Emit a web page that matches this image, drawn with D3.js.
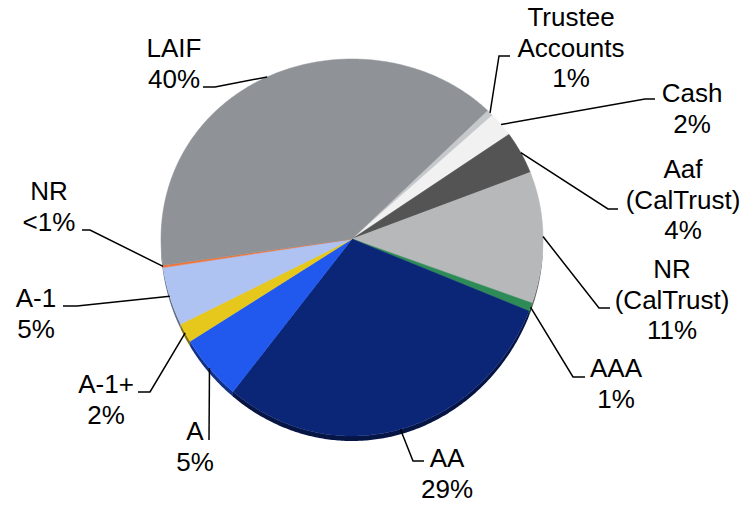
<!DOCTYPE html>
<html>
<head>
<meta charset="utf-8">
<script src="https://cdn.jsdelivr.net/npm/d3@7"></script>
<style>
	body { margin: 0; background: #fff; }
	text { font-family: "Liberation Sans", Arial, sans-serif; font-size: 26px; fill: #000; }
</style>
</head>
<body>
<svg id="chart" width="753" height="505"></svg>
<script>
// slices, clockwise from the Trustee Accounts sliver
const categories = ["Trustee Accounts", "Cash", "Aaf (CalTrust)", "NR (CalTrust)", "AAA", "AA", "A", "A-1+", "A-1", "NR", "LAIF"];
const values = [0.6, 2.2, 3.8, 11.3, 0.7, 29.6, 5.4, 1.6, 4.9, 0.2, 39.8];
const pctLabels = ["1%", "2%", "4%", "11%", "1%", "29%", "5%", "2%", "5%", "<1%", "40%"];
const labelLines = [
	["Trustee", "Accounts"], ["Cash"], ["Aaf", "(CalTrust)"], ["NR", "(CalTrust)"], ["AAA"],
	["AA"], ["A"], ["A-1+"], ["A-1"], ["NR"], ["LAIF"]
];
const colors = ["#c6c9cc", "#f1f1f1", "#545454", "#b6b8ba", "#2e8b57", "#0b2577", "#2159ee", "#e6c81c", "#afc3f2", "#f0743a", "#8f9296"];

// label layout: text centre x, first baseline y, and leader elbow points
const labelPos = [
	{x: 571, y: 26, leader: [[499, 56], [510, 56]]},
	{x: 692, y: 102, leader: [[645, 99], [655, 99]]},
	{x: 683, y: 178, leader: [[608, 209], [618, 209]]},
	{x: 672, y: 278, leader: [[599, 308], [610, 308]]},
	{x: 616, y: 377, leader: [[573, 377], [585, 377]]},
	{x: 447, y: 467, leader: [[413, 461], [424, 461]]},
	{x: 195, y: 440, leader: [[209, 440]]},
	{x: 106, y: 393, leader: [[150, 392], [138, 392]]},
	{x: 36, y: 307, leader: [[77, 306], [63, 306]]},
	{x: 49, y: 200, leader: [[90, 230], [82, 230]]},
	{x: 174, y: 57, leader: [[215, 87], [203, 87]]}
];

const lineHeight = 30.5;
const depth = 5;
const startDeg = 45.2;

const svg = d3.select("#chart");

// tilted disc: unit circle -> screen
let xScale = d3.scaleLinear().domain([-1, 1]).range([161, 543]);
function yProj(uy) {
	return 239 + 188.5 * uy + 8.5 * uy * uy;
}
function project(angle, r) {
	let ux = r * Math.sin(angle);
	let uy = -r * Math.cos(angle);
	return [xScale(ux), yProj(uy)];
}

let pie = d3.pie()
	.sort(null)
	.value(function(d) { return d; })
	.startAngle(startDeg * Math.PI / 180)
	.endAngle(startDeg * Math.PI / 180 + 2 * Math.PI);

let arcs = pie(values);
let line = d3.line();

function arcPoints(a0, a1) {
	let n = Math.max(2, Math.ceil((a1 - a0) / 0.01));
	let pts = [];
	for (let k = 0; k <= n; k++) {
		pts.push(project(a0 + (a1 - a0) * k / n, 1));
	}
	return pts;
}

// side wall on the front half
let sides = svg.append("g");
arcs.forEach(function(d, i) {
	let lo = Math.max(d.startAngle % (2 * Math.PI), Math.PI / 2);
	let hi = Math.min(lo + (d.endAngle - d.startAngle), 3 * Math.PI / 2);
	let a0 = d.startAngle % (2 * Math.PI);
	let a1 = a0 + (d.endAngle - d.startAngle);
	lo = Math.max(a0, Math.PI / 2);
	hi = Math.min(a1, 3 * Math.PI / 2);
	if (hi <= lo) return;
	let top = arcPoints(lo, hi);
	let bottom = top.map(function(p) { return [p[0], p[1] + depth]; }).reverse();
	sides.append("path")
		.attr("d", line(top.concat(bottom)) + "Z")
		.attr("fill", d3.color(colors[i]).darker(1.6));
});

// top faces
let centre = project(0, 0);
svg.append("g").selectAll("path")
	.data(arcs)
	.enter()
	.append("path")
	.attr("d", function(d) {
		return line([centre].concat(arcPoints(d.startAngle, d.endAngle))) + "Z";
	})
	.attr("fill", function(d, i) { return colors[i]; })
	.attr("stroke", function(d, i) { return colors[i]; })
	.attr("stroke-width", 0.5);

// leader lines
svg.append("g").selectAll("path")
	.data(arcs)
	.enter()
	.append("path")
	.attr("d", function(d, i) {
		let mid = (d.startAngle + d.endAngle) / 2;
		return line([project(mid, 1.0)].concat(labelPos[i].leader));
	})
	.attr("fill", "none")
	.attr("stroke", "#000")
	.attr("stroke-width", 1.5);

// labels
let labels = svg.append("g").selectAll("text")
	.data(categories)
	.enter()
	.append("text")
	.attr("text-anchor", "middle")
	.attr("x", function(d, i) { return labelPos[i].x; })
	.attr("y", function(d, i) { return labelPos[i].y; });

labels.each(function(d, i) {
	let lines = labelLines[i].concat([pctLabels[i]]);
	let t = d3.select(this);
	lines.forEach(function(s, k) {
		t.append("tspan")
			.attr("x", labelPos[i].x)
			.attr("dy", k === 0 ? 0 : lineHeight)
			.text(s);
	});
});
</script>
</body>
</html>
